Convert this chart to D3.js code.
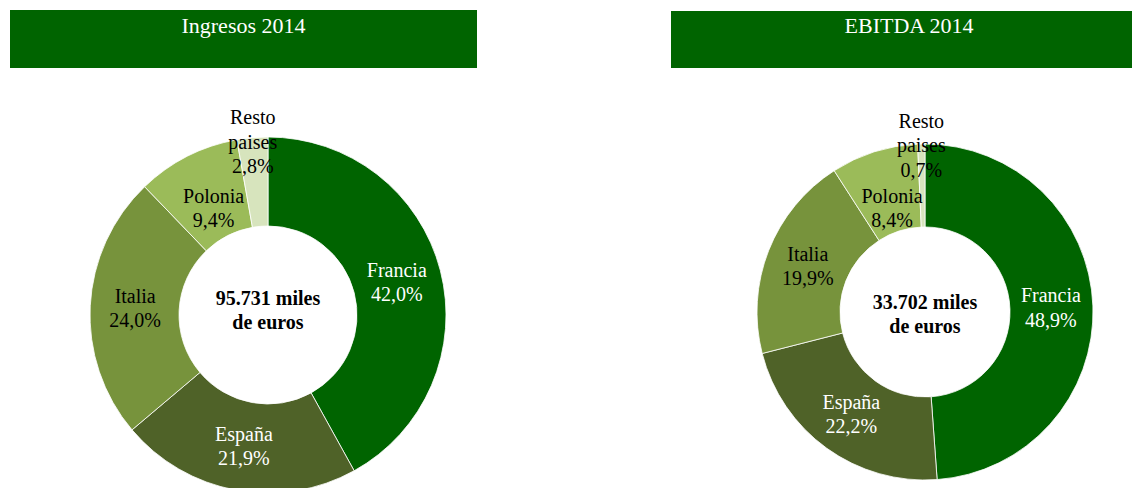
<!DOCTYPE html>
<html><head><meta charset="utf-8">
<script src="https://cdn.jsdelivr.net/npm/d3@7"></script>
<style>body{margin:0;background:#fff}svg{display:block}</style>
</head><body>
<svg id="c" width="1132" height="488"></svg>
<script>
const categories = ["Francia", "España", "Italia", "Polonia", "Resto\npaises"];
const ingresosValues = [42.0, 21.9, 24.0, 9.4, 2.8];
const ebitdaValues = [48.9, 22.2, 19.9, 8.4, 0.7];
const ingresosLabels = ["42,0%", "21,9%", "24,0%", "9,4%", "2,8%"];
const ebitdaLabels = ["48,9%", "22,2%", "19,9%", "8,4%", "0,7%"];
const titles = ["Ingresos 2014", "EBITDA 2014"];
const totals = ["95.731 miles", "33.702 miles"];
const colors = ["#006400", "#4f6228", "#77933c", "#9bbb59", "#d7e4bd"];
const textColors = ["#fff", "#fff", "#000", "#000", "#000"];

const svg = d3.select("#c");
const font = "'Liberation Serif','Times New Roman',serif";

const charts = [
  {values: ingresosValues, labels: ingresosLabels, title: titles[0], total: totals[0],
   box: [10, 10, 467, 58], cx: 268, cy: 315, r0: 89, r1: 178, lr: [133, 133, 133, 120, 174]},
  {values: ebitdaValues, labels: ebitdaLabels, title: titles[1], total: totals[1],
   box: [671, 11, 476, 57], cx: 925, cy: 312, r0: 85, r1: 168, lr: [126, 126, 126, 109, 167]}
];

const pie = d3.pie().sort(null).value(d => d);

charts.forEach(ch => {
  svg.append("rect").attr("x", ch.box[0]).attr("y", ch.box[1])
    .attr("width", ch.box[2]).attr("height", ch.box[3]).attr("fill", "#006400");
  svg.append("text").attr("x", ch.box[0] + ch.box[2] / 2).attr("y", 33)
    .attr("text-anchor", "middle").attr("font-family", font).attr("font-size", 22)
    .attr("fill", "#fff").text(ch.title);

  const g = svg.append("g").attr("transform", `translate(${ch.cx},${ch.cy})`);
  const arcs = pie(ch.values);
  const arc = d3.arc().innerRadius(ch.r0).outerRadius(ch.r1);
  g.selectAll("path").data(arcs).join("path")
    .attr("d", arc).attr("fill", (d, i) => colors[i])
    .attr("stroke", "#fff").attr("stroke-width", 0.8);

  arcs.forEach((d, i) => {
    const a = (d.startAngle + d.endAngle) / 2;
    const x = Math.sin(a) * ch.lr[i], y = -Math.cos(a) * ch.lr[i];
    const lines = categories[i].split("\n").concat([ch.labels[i]]);
    const t = g.append("text").attr("text-anchor", "middle").attr("font-family", font)
      .attr("font-size", 20).attr("fill", textColors[i]);
    lines.forEach((ln, k) => {
      t.append("tspan").attr("x", x)
        .attr("y", y + (k - (lines.length - 1) / 2) * 24.5)
        .attr("dy", "0.35em").text(ln);
    });
  });

  const c = g.append("text").attr("text-anchor", "middle").attr("font-family", font)
    .attr("font-size", 20).attr("font-weight", "bold").attr("fill", "#000");
  [ch.total, "de euros"].forEach((ln, k) => {
    c.append("tspan").attr("x", 0).attr("y", -10 + k * 24 - (ch === charts[0] ? 7 : 0) ).attr("dy", "0.35em").text(ln);
  });
});
</script>
</body></html>
